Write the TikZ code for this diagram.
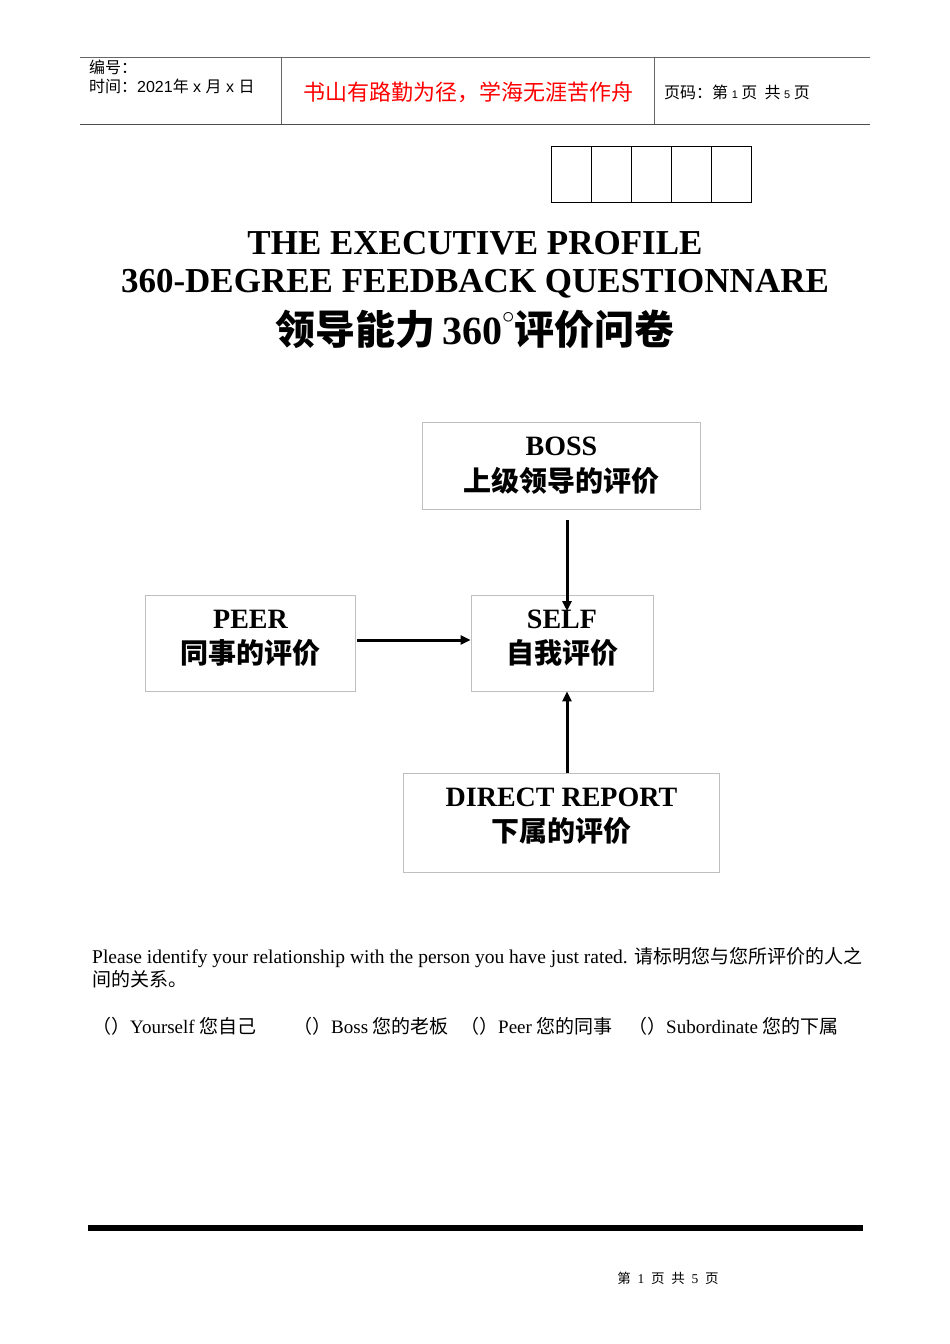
\documentclass[tikz,border=0pt]{standalone}
\usepackage{fontspec}
\setmainfont{Liberation Serif}
\newfontfamily\cjk{Noto Sans CJK SC}
\newfontfamily\hsans{Liberation Sans}
\usetikzlibrary{arrows.meta}
\begin{document}
\begin{tikzpicture}[x=1pt,y=-1pt,
  lbox/.style={draw=black!25,line width=0.8pt,minimum width=#1,inner sep=0pt,align=center},
  arr/.style={line width=3pt,-{Triangle[length=10pt,width=9pt]}},
  bt/.style={font=\fontsize{28}{32}\selectfont\bfseries},
  ct/.style={font=\fontsize{28}{32}\selectfont\cjk\bfseries}]
\useasboundingbox (0,0) rectangle (950,1344);
% header
\draw[black!60,line width=1pt] (80,57) -- (870,57);
\draw[black!70,line width=1pt] (80,124) -- (870,124);
\draw[black!60,line width=1pt] (281,57) -- (281,124) (654,57) -- (654,124);
\node[anchor=north west,align=left,inner sep=0pt,font=\fontsize{16}{19}\selectfont\hsans] (hl) at (89,60) {{\cjk 编号：}\\{\cjk 时间：}2021{\cjk 年} x {\cjk 月} x {\cjk 日}};
\node[text=red,font=\fontsize{22}{24}\selectfont\cjk] (hm) at (468,92) {书山有路勤为径，学海无涯苦作舟};
\node[anchor=west,inner sep=0pt,font=\fontsize{16}{18}\selectfont\cjk] (hr) at (664,92) {页码：第 {\hsans\fontsize{11}{12}\selectfont 1} 页\ \ 共 {\hsans\fontsize{11}{12}\selectfont 5} 页};
% boxes
\foreach \i in {0,...,4}{\draw[line width=1pt] (551+\i*40,146) rectangle +(40,56);}
% title
\node[font=\fontsize{35}{40}\selectfont\bfseries] (t1) at (475,243) {THE EXECUTIVE PROFILE};
\node[font=\fontsize{35}{40}\selectfont\bfseries] (t2) at (475,284) {360-DEGREE FEEDBACK QUESTIONNARE};
\node[font=\fontsize{40}{44}\selectfont\bfseries] (t3) at (475,329) {{\cjk\bfseries 领导能力}\,360\raisebox{1.1ex}{\fontsize{24}{24}\selectfont$\circ$}{\cjk\bfseries 评价问卷}};
% diagram
\node[lbox=278pt,minimum height=87pt] (boss) at (561.5,465.5) {};
\node[bt] at (561.5,446) {BOSS};
\node[ct] at (561.5,481) {上级领导的评价};
\node[lbox=210pt,minimum height=96pt] (peer) at (250.5,643) {};
\node[bt] at (250.5,619) {PEER};
\node[ct] at (250.5,653) {同事的评价};
\node[lbox=182pt,minimum height=96pt] (self) at (562,643) {};
\node[bt] at (562,619) {SELF};
\node[ct] at (562,653) {自我评价};
\node[lbox=316pt,minimum height=99pt] (dr) at (561.5,822.5) {};
\node[bt] at (561.5,797) {DIRECT REPORT};
\node[ct] at (561.5,831) {下属的评价};
\coordinate (bs) at (567,520);
\coordinate (be) at (567,611);
\coordinate (ps) at (357,640);
\coordinate (ds) at (567,773);
\draw[arr] (bs) -- (be);
\draw[arr] (ps) -- (ps -| self.west);
\draw[arr] (ds) -- (ds |- self.south);
% text
\node[anchor=north west,align=left,inner sep=0pt,font=\fontsize{19.5}{23}\selectfont] (q) at (92,947) {Please identify your relationship with the person you have just rated. {\cjk\fontsize{19}{23}\selectfont 请标明您与您所评价的人之}\\{\cjk\fontsize{19}{23}\selectfont 间的关系。}};
\node[anchor=west,inner sep=0pt,font=\fontsize{19}{23}\selectfont] (o1) at (92,1026) {{\cjk （）}Yourself {\cjk 您自己}};
\node[anchor=west,inner sep=0pt,font=\fontsize{19}{23}\selectfont] (o2) at (293,1026) {{\cjk （）}Boss {\cjk 您的老板}};
\node[anchor=west,inner sep=0pt,font=\fontsize{19}{23}\selectfont] (o3) at (460,1026) {{\cjk （）}Peer {\cjk 您的同事}};
\node[anchor=west,inner sep=0pt,font=\fontsize{19}{23}\selectfont] (o4) at (628,1026) {{\cjk （）}Subordinate {\cjk 您的下属}};
% footer
\draw[line width=6pt] (88,1228) -- (863,1228);
\node[font=\fontsize{13.5}{15}\selectfont] (ft) at (668,1278) {{\cjk 第}\ \ 1\ \ {\cjk 页}\ \ {\cjk 共}\ \ 5\ \ {\cjk 页}};
\end{tikzpicture}
\end{document}
